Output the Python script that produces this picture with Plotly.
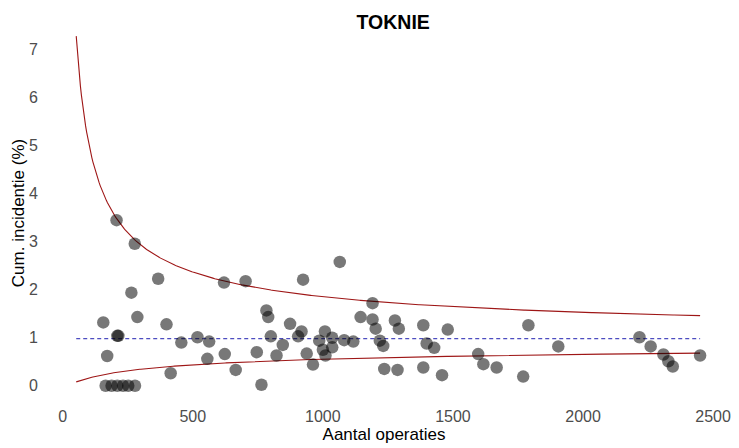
import numpy as np
import plotly.graph_objects as go

# Data: number of operations and cumulative incidence (%) per hospital
aantal = [165, 188, 210, 232, 252, 278,
          156, 171, 210, 214, 207, 277, 264, 287, 367, 399, 415, 456, 518, 563,
          556, 620, 623, 703, 665, 746, 764, 783, 790, 800, 822, 846, 874, 905,
          918, 924, 938, 962, 986, 1008, 1036, 1000, 1010, 1036, 1082, 1065,
          1117, 1145, 1191, 1191, 1203, 1219, 1232, 1236, 1277, 1292, 1287,
          1386, 1399, 1428, 1386, 1458, 1480, 1597, 1617, 1668, 1770, 1790,
          1905, 2217, 2260, 2309, 2328, 2345, 2450]
incidentie = [0, 0, 0, 0, 0, 0,
              1.32, 0.62, 1.04, 1.04, 3.45, 2.96, 1.94, 1.43, 2.23, 1.28, 0.26, 0.90, 1.01, 0.92,
              0.56, 2.15, 0.66, 2.18, 0.33, 0.70, 0.02, 1.57, 1.43, 1.03, 0.63, 0.85, 1.29, 1.03,
              1.13, 2.21, 0.67, 0.44, 0.94, 1.13, 1.00, 0.75, 0.63, 0.80, 0.95, 2.58,
              0.92, 1.43, 1.72, 1.38, 1.19, 0.94, 0.83, 0.35, 1.36, 1.19, 0.33,
              1.26, 0.88, 0.79, 0.38, 0.22, 1.17, 0.66, 0.45, 0.38, 0.19, 1.26,
              0.82, 1.01, 0.82, 0.65, 0.51, 0.40, 0.63]

gemiddelde = 0.98          # overall incidence (%)
n_min, n_max = 52, 2450    # range of control limits
boven_a, boven_b = 88.5, 0.6685   # upper control-limit shape
onder_z = 1.8                      # lower control-limit width

n = np.linspace(n_min, n_max, 600)
p = gemiddelde / 100
boven = gemiddelde + boven_a * n ** (-boven_b)
onder = gemiddelde * np.exp(-onder_z * np.sqrt((1 - p) / (n * p)))

fig = go.Figure()
fig.add_trace(go.Scatter(x=n, y=boven, mode="lines",
                         line=dict(color="#9e1616", width=1.1), hoverinfo="skip"))
fig.add_trace(go.Scatter(x=n, y=onder, mode="lines",
                         line=dict(color="#9e1616", width=1.1), hoverinfo="skip"))
fig.add_trace(go.Scatter(x=[n_min, n_max], y=[gemiddelde, gemiddelde], mode="lines",
                         line=dict(color="#2020b0", width=1, dash="4px,3px"), hoverinfo="skip"))
fig.add_trace(go.Scatter(x=aantal, y=incidentie, mode="markers",
                         marker=dict(size=12.5, color="rgba(0,0,0,0.53)", line=dict(width=0))))

# page body has an 8px default margin, so the figure is sized to fit inside the window
fig.update_layout(
    width=731, height=440,
    margin=dict(l=37, r=16, t=15, b=45, autoexpand=False),
    paper_bgcolor="white", plot_bgcolor="white",
    showlegend=False,
    font=dict(family="Liberation Sans, Arial, sans-serif", color="#000000"),
    title=dict(text="<b>TOKNIE</b>", x=0.527, xref="container", xanchor="center",
               y=0.968, yref="container", yanchor="middle",
               font=dict(size=19.5, color="black")),
)
fig.update_xaxes(range=[-68, 2538], showgrid=False, zeroline=False, showline=False,
                 automargin=False,
                 tickvals=[0, 500, 1000, 1500, 2000, 2500],
                 tickfont=dict(size=16, color="#4d4d4d"), ticklabelstandoff=2,
                 title=dict(text="Aantal operaties", font=dict(size=17, color="black"), standoff=0))
fig.update_yaxes(range=[-0.36, 7.56], showgrid=False, zeroline=False, showline=False,
                 automargin=False,
                 tickvals=[0, 1, 2, 3, 4, 5, 6, 7],
                 tickfont=dict(size=16, color="#4d4d4d"), ticklabelstandoff=6,
                 title=dict(text="Cum. incidentie (%)", font=dict(size=17, color="black"), standoff=0))

fig.write_html("out.html")
